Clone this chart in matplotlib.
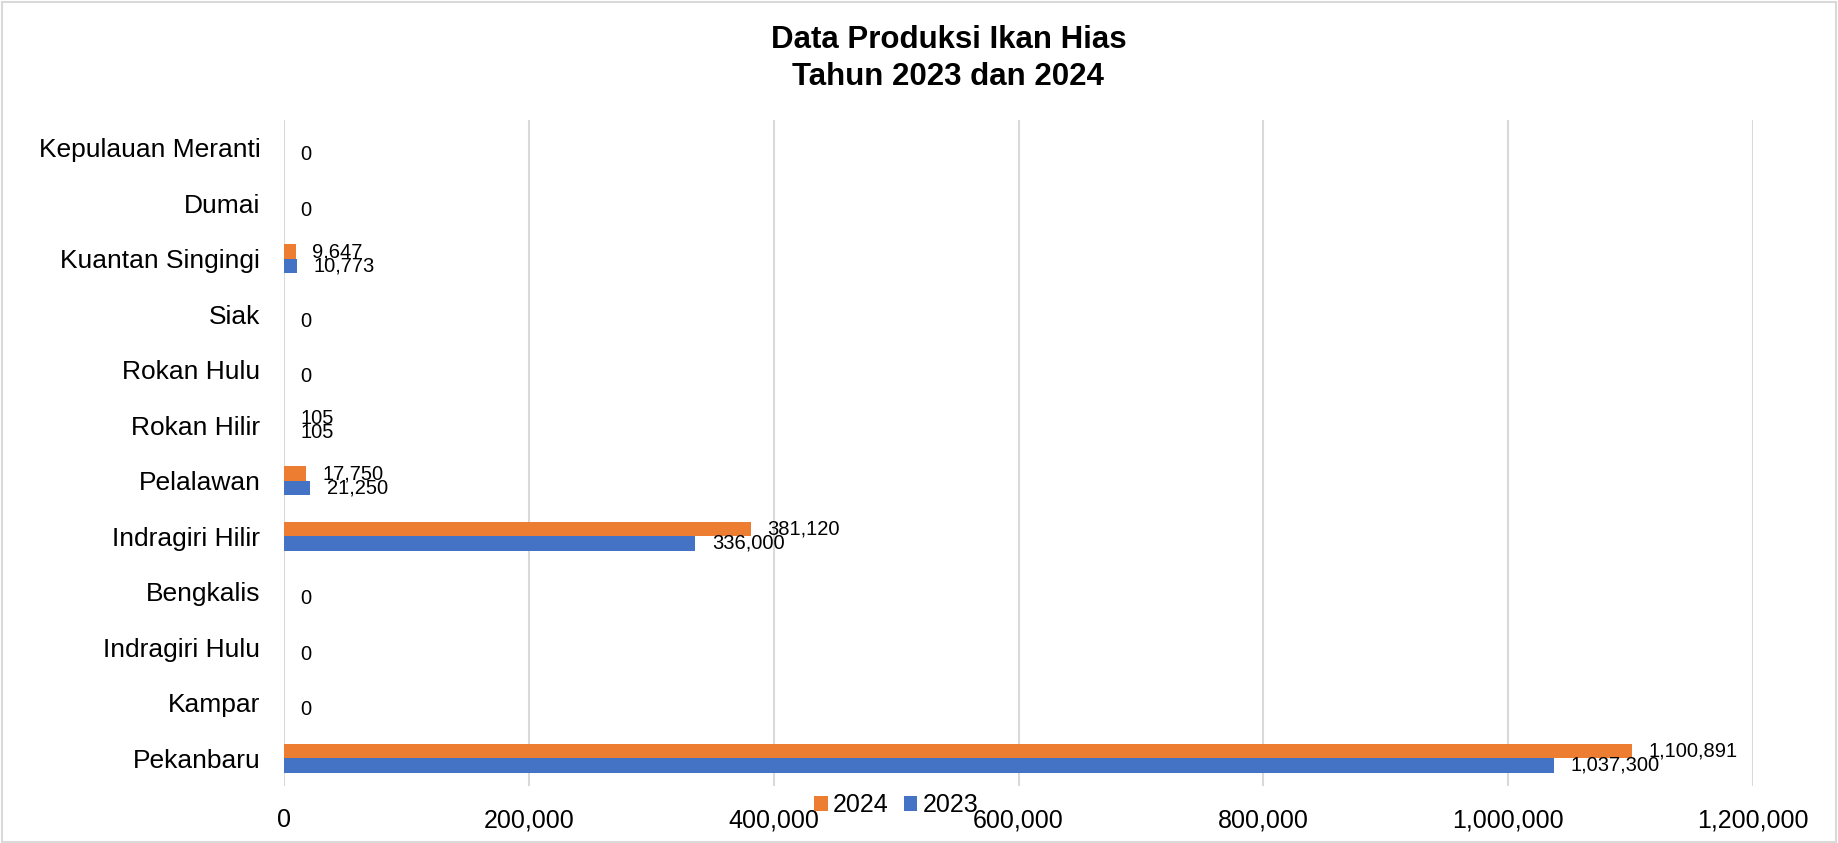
import matplotlib
matplotlib.use("Agg")
import matplotlib.pyplot as plt
import numpy as np
from matplotlib.patches import Rectangle
from matplotlib.ticker import FuncFormatter

plt.rcParams['font.family'] = ['Liberation Sans', 'DejaVu Sans']

# categories from bottom to top, as drawn
KABUPATEN = ['Pekanbaru', 'Kampar', 'Indragiri Hulu', 'Bengkalis', 'Indragiri Hilir',
             'Pelalawan', 'Rokan Hilir', 'Rokan Hulu', 'Siak', 'Kuantan Singingi',
             'Dumai', 'Kepulauan Meranti']
PROD_2024 = [1100891, 0, 0, 0, 381120, 17750, 105, 0, 0, 9647, 0, 0]
PROD_2023 = [1037300, 0, 0, 0, 336000, 21250, 105, 0, 0, 10773, 0, 0]
X_TICKS = [0, 200000, 400000, 600000, 800000, 1000000, 1200000]

ORANGE = '#ED7D31'
BLUE = '#4472C4'
GRID = '#D9D9D9'

fig = plt.figure(figsize=(18.38, 8.43), dpi=100)
ax = fig.add_axes([0.1545, 0.0676, 0.7993, 0.7901])

y = np.arange(len(KABUPATEN))
bar_h = 0.26
ax.barh(y + bar_h / 2, PROD_2024, height=bar_h, color=ORANGE, label='2024', zorder=3)
ax.barh(y - bar_h / 2, PROD_2023, height=bar_h, color=BLUE, label='2023', zorder=3)

# data labels (2024 blanks carry no label)
for yi, v in zip(y, PROD_2024):
    if v > 0:
        ax.annotate(f"{v:,}", (v, yi + bar_h / 2), xytext=(12, 0), textcoords='offset points',
                    va='center', ha='left', fontsize=14.5, zorder=4)
for yi, v in zip(y, PROD_2023):
    ax.annotate(f"{v:,}", (v, yi - bar_h / 2), xytext=(12, 0), textcoords='offset points',
                va='center', ha='left', fontsize=14.5, zorder=4)

ax.set_xlim(0, 1200000)
ax.set_ylim(-0.5, len(KABUPATEN) - 0.5)
ax.set_xticks(X_TICKS)
ax.xaxis.set_major_formatter(FuncFormatter(lambda v, p: f"{int(v):,}"))
ax.set_yticks(y)
ax.set_yticklabels(KABUPATEN)
ax.tick_params(axis='x', length=0, labelsize=18, pad=16)
ax.tick_params(axis='y', length=0, labelsize=19, pad=17)
ax.grid(axis='x', color=GRID, linewidth=1.5, zorder=0)
for s in ax.spines.values():
    s.set_visible(False)

fig.text(0.516, 0.931, 'Data Produksi Ikan Hias\nTahun 2023 dan 2024', ha='center', va='center',
         fontsize=22.5, fontweight='bold', linespacing=1.3)

fig.legend(loc='center', bbox_to_anchor=(0.4875, 0.045), ncol=2, frameon=False, fontsize=18,
           handlelength=0.55, handleheight=0.55, handletextpad=0.2, columnspacing=0.6,
           borderaxespad=0)

fig.patches.append(Rectangle((0.001, 0.001), 0.998, 0.997, transform=fig.transFigure,
                             fill=False, edgecolor=GRID, linewidth=1.5))

fig.savefig('out.png', dpi=100)
